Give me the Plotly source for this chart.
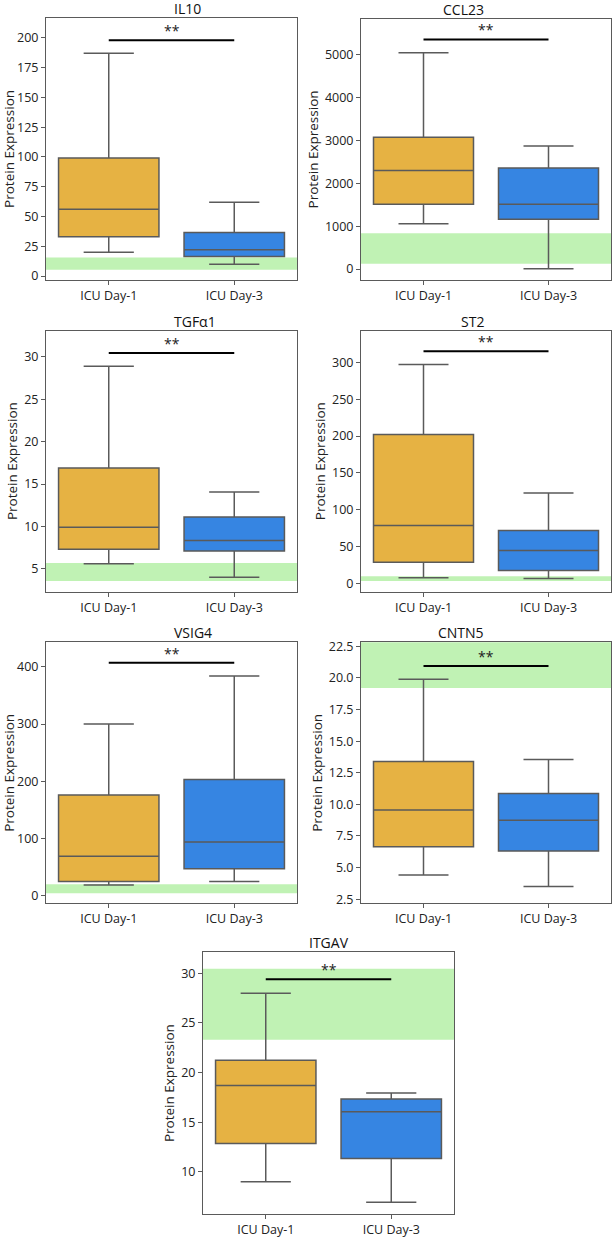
import plotly.graph_objects as go

# data
genes = ["IL10", "CCL23", "TGFα1", "ST2", "VSIG4", "CNTN5", "ITGAV"]
groups = ["ICU Day-1", "ICU Day-3"]

d1_low = [20, 1060, 5.6, 8, 19, 4.4, 9.0]
d1_q1 = [33, 1515, 7.3, 29, 25, 6.65, 12.85]
d1_med = [56, 2300, 9.9, 79, 69, 9.55, 18.7]
d1_q3 = [99, 3080, 16.9, 202, 176, 13.4, 21.25]
d1_high = [187, 5050, 28.9, 297, 300, 19.9, 28.0]

d3_low = [10, 10, 4.0, 7, 25, 3.5, 6.95]
d3_q1 = [16.4, 1165, 7.1, 18, 47, 6.3, 11.35]
d3_med = [22, 1515, 8.35, 45, 94, 8.75, 16.05]
d3_q3 = [36.5, 2360, 11.1, 72, 203, 10.85, 17.35]
d3_high = [62, 2875, 14.05, 123, 384, 13.55, 17.95]

band_low = [5.3, 125, 3.55, 3.6, 4.5, 19.2, 23.3]
band_high = [15.5, 835, 5.7, 10, 20.2, 23.5, 30.45]

sig_y = [198, 5360, 30.45, 315, 407, 20.95, 29.4]

y_ranges = [[-3.3, 216.7], [-255, 5841], [2.3, 33.1], [-10.8, 342.8],
            [-13.4, 442.8], [2.16, 22.82], [5.74, 32.14]]
y_dtick = [25, 1000, 5, 50, 100, 2.5, 5]
y_fmt = ["", "", "", "", "", ".1f", ""]

orange = "#E6B243"
blue = "#3685E2"
green = "rgb(192,242,180)"
edge = "#5a5a5a"

W, H = 613, 1239
# plot areas in pixels: left, right, top, bottom
boxes_px = [(46, 297, 13, 277), (361, 611, 14, 277),
            (46, 297, 328, 591), (361, 611, 328, 591),
            (46, 297, 642, 905), (361, 611, 642, 905),
            (203, 454, 954, 1218)]

font = "Open Sans"
fig = go.Figure()

for i, g in enumerate(genes):
    n = i + 1
    xa = "x" if n == 1 else f"x{n}"
    ya = "y" if n == 1 else f"y{n}"
    l, r, t, b = boxes_px[i]

    for grp, col, lo, q1, md, q3, hi in [
        (groups[0], orange, d1_low, d1_q1, d1_med, d1_q3, d1_high),
        (groups[1], blue, d3_low, d3_q1, d3_med, d3_q3, d3_high),
    ]:
        fig.add_trace(go.Box(
            x=[grp], q1=[q1[i]], median=[md[i]], q3=[q3[i]],
            lowerfence=[lo[i]], upperfence=[hi[i]],
            fillcolor=col, line=dict(color=edge, width=1.5),
            width=0.8, whiskerwidth=0.5, boxpoints=False,
            showlegend=False, hoverinfo="skip", xaxis=xa, yaxis=ya))

    # significance bar
    fig.add_trace(go.Scatter(
        x=groups, y=[sig_y[i], sig_y[i]], mode="lines",
        line=dict(color="black", width=2), showlegend=False,
        hoverinfo="skip", xaxis=xa, yaxis=ya))
    fig.add_annotation(x=0.5, y=sig_y[i], xref=xa, yref=ya, text="**",
                       showarrow=False, yanchor="bottom", yshift=-2,
                       font=dict(family=font, size=14, color="#222"))

    # reference band
    fig.add_shape(type="rect", xref=f"{xa} domain", yref=ya,
                  x0=0, x1=1, y0=band_low[i], y1=band_high[i],
                  fillcolor=green, line_width=0, layer="below")

    # subplot title
    fig.add_annotation(x=(l + r) / 2 / W, y=1 - t / H, xref="paper", yref="paper",
                       text=g, showarrow=False, yanchor="bottom", yshift=-2,
                       font=dict(family=font, size=14, color="#111"))

    ax = dict(domain=[l / W, r / W], anchor=ya, type="category",
              range=[-0.5, 1.5], showline=True, mirror=True, linecolor=edge,
              linewidth=1, ticks="outside", ticklen=4, tickcolor=edge,
              showgrid=False, zeroline=False,
              tickfont=dict(family=font, size=12.5, color="#222"))
    ay = dict(domain=[1 - b / H, 1 - t / H], anchor=xa, range=y_ranges[i],
              dtick=y_dtick[i], tick0=0, tickformat=y_fmt[i],
              showline=True, mirror=True, linecolor=edge, linewidth=1,
              ticks="outside", ticklen=4, tickcolor=edge,
              showgrid=False, zeroline=False,
              tickfont=dict(family=font, size=12.5, color="#222"),
              title=dict(text="Protein Expression", standoff=3,
                         font=dict(family=font, size=13.5, color="#222")))
    key = "" if n == 1 else str(n)
    fig.update_layout({f"xaxis{key}": ax, f"yaxis{key}": ay})

fig.update_layout(width=W, height=H, margin=dict(l=0, r=0, t=0, b=0),
                  paper_bgcolor="white", plot_bgcolor="white",
                  boxmode="overlay", showlegend=False)

fig.write_html("out.html", config={"displayModeBar": False},
               post_script="document.body.style.margin='0';")
